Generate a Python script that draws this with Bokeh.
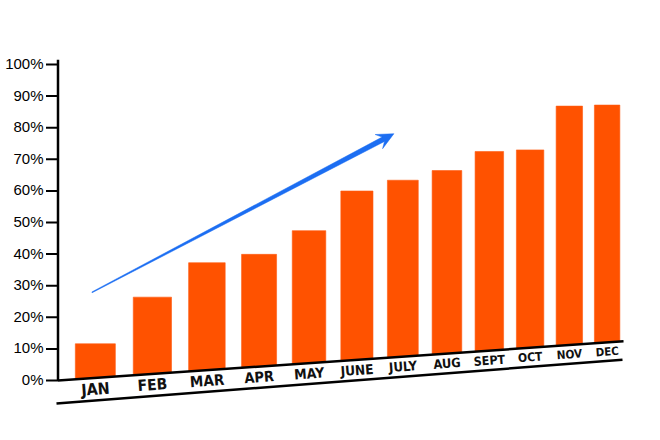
import math
from bokeh.plotting import figure
from bokeh.models import Range1d, ColumnDataSource
from bokeh.core.properties import value
from bokeh.embed import file_html
from bokeh.resources import INLINE

# ---------------- data ----------------
months = ["JAN", "FEB", "MAR", "APR", "MAY", "JUNE", "JULY", "AUG", "SEPT", "OCT", "NOV", "DEC"]
growth = [10.8, 24.3, 34.0, 35.5, 41.9, 53.4, 55.8, 57.9, 63.0, 62.6, 75.6, 75.1]
y_ticks = [0, 10, 20, 30, 40, 50, 60, 70, 80, 90, 100]
y_tick_labels = ["0%", "10%", "20%", "30%", "40%", "50%", "60%", "70%", "80%", "90%", "100%"]
# trend arrow: (month position, value) of tail and tip
trend_tail = (-0.06, 27.9)
trend_tip = (5.8, 78.1)

# ---------------- layout (tilted / perspective view) ----------------
W, H = 644, 424
PX_PER_PCT = 3.16          # vertical scale
ZERO_Y = 380.0             # picture y of the 0% level at the axis
X0, STEP, DEPTH = 95.0, 58.35, 0.02312   # perspective of the month positions
HALF_BAR = 0.343
AXIS_X = 57.5
TICK_X0 = 45.5
LABEL_X = 43.0
BASE_SLOPE = 0.0694        # baseline rise (px per px)
LOW_Y0, LOW_X0, LOW_SLOPE = 403.0, 56.0, 0.0773
LINE_END = 623.0


def px(u):
    return X0 + STEP * u / (1 + DEPTH * u)


def base(x):
    return (x - AXIS_X) * BASE_SLOPE / PX_PER_PCT


def low(x):
    return (ZERO_Y - LOW_Y0 + LOW_SLOPE * (x - LOW_X0)) / PX_PER_PCT


p = figure(width=W, height=H, output_backend="svg", toolbar_location=None,
           x_range=Range1d(0, W),
           y_range=Range1d((ZERO_Y - H) / PX_PER_PCT, ZERO_Y / PX_PER_PCT),
           x_axis_location=None, y_axis_location=None, min_border=0,
           background_fill_color="white", border_fill_color="white")
p.outline_line_color = None
p.grid.visible = False

# bars
xs, ys = [], []
for i, g in enumerate(growth):
    xl, xr, xc = px(i - HALF_BAR), px(i + HALF_BAR), px(i)
    top = base(xc) + g
    xs.append([xl, xr, xr, xl])
    ys.append([base(xl), base(xr), top, top])
p.patches(xs, ys, fill_color="#FF5200", line_color="#FF5A10", line_width=0.6)

# trend arrow (tapered shaft + head), built in pixel space
def to_px(u, v):
    return px(u), ZERO_Y - v * PX_PER_PCT

tx, ty = to_px(*trend_tail)
hx, hy = to_px(*trend_tip)
L = math.hypot(hx - tx, hy - ty)
ux, uy = (hx - tx) / L, (hy - ty) / L
nx, ny = -uy, ux
hbx, hby = hx - 17 * ux, hy - 17 * uy
ntx, nty = hx - 12 * ux, hy - 12 * uy
pts = [(tx + 0.4 * nx, ty + 0.4 * ny), (ntx + 2.5 * nx, nty + 2.5 * ny),
       (hbx + 8 * nx, hby + 8 * ny), (hx, hy),
       (hbx - 8 * nx, hby - 8 * ny), (ntx - 2.5 * nx, nty - 2.5 * ny),
       (tx - 0.4 * nx, ty - 0.4 * ny)]
p.patch([q[0] for q in pts], [(ZERO_Y - q[1]) / PX_PER_PCT for q in pts],
        fill_color="#1C6EF2", line_color="#1C6EF2", line_width=0.5)

# y axis
p.segment(x0=[AXIS_X], y0=[0], x1=[AXIS_X], y1=[101.5], line_color="black", line_width=2.5)
p.segment(x0=[TICK_X0] * len(y_ticks), y0=y_ticks, x1=[AXIS_X] * len(y_ticks), y1=y_ticks,
          line_color="black", line_width=2)
p.text(x=[LABEL_X] * len(y_ticks), y=y_ticks, text=y_tick_labels,
       text_font=value("Liberation Sans"), text_font_size="15px", text_color="black",
       text_align="right", text_baseline="middle", y_offset=-1)

# slanted baseline and lower line
p.segment(x0=[AXIS_X], y0=[base(AXIS_X)], x1=[LINE_END], y1=[base(LINE_END)],
          line_color="black", line_width=2.5)
p.segment(x0=[LOW_X0], y0=[low(LOW_X0)], x1=[LINE_END - 1], y1=[low(LINE_END - 1)],
          line_color="black", line_width=2.5)

# month labels
lx = [px(i) for i in range(len(months))]
ly = [(base(x) + low(x)) / 2 for x in lx]
fs = ["%.1fpx" % (16 * (1 / (1 + DEPTH * i)) ** 1.5) for i in range(len(months))]
src = ColumnDataSource(dict(x=lx, y=ly, t=months, fs=fs))
p.text(x="x", y="y", text="t", source=src, text_font=value("DejaVu Sans Condensed"),
       text_font_style="bold", text_font_size="fs", text_color="#111111",
       text_align="center", text_baseline="middle",
       angle=math.atan((BASE_SLOPE + LOW_SLOPE) / 2))

open("out.html", "w").write(file_html(p, INLINE))
